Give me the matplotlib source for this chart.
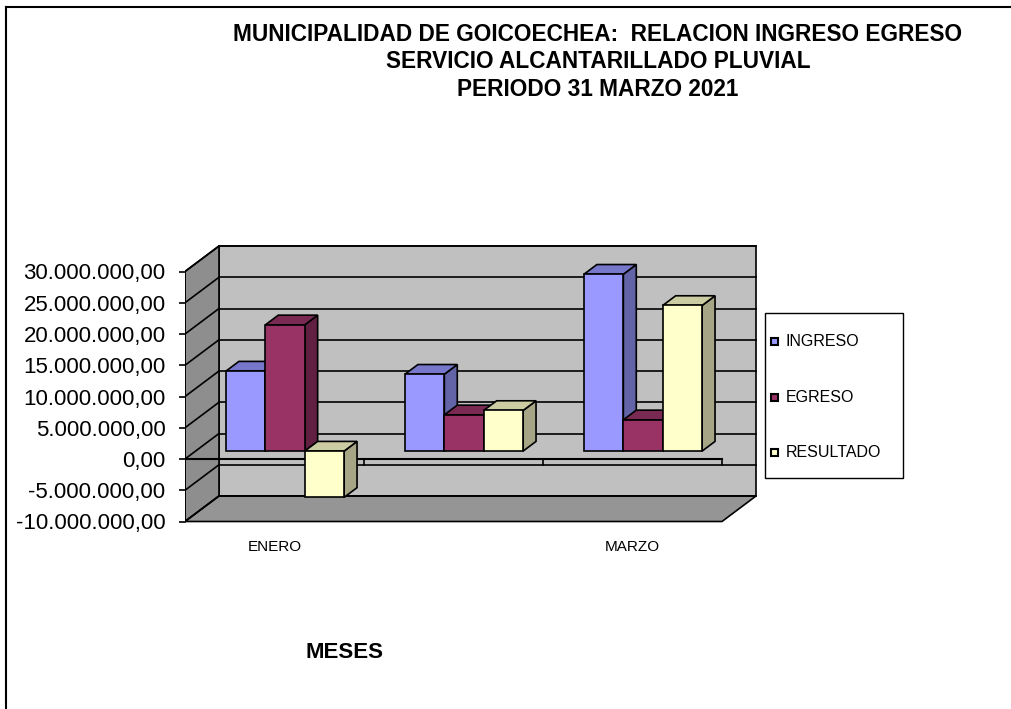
import numpy as np
import matplotlib
matplotlib.use("Agg")
import matplotlib.pyplot as plt
from matplotlib.patches import Polygon, Rectangle
from matplotlib.lines import Line2D
from matplotlib.transforms import blended_transform_factory

plt.rcParams['font.family'] = ['Liberation Sans', 'DejaVu Sans']

# data
meses = ["ENERO", "FEBRERO", "MARZO"]
mes_labels = ["ENERO", "", "MARZO"]
series = ["INGRESO", "EGRESO", "RESULTADO"]
ingreso = [12_800_000, 12_300_000, 28_300_000]
egreso = [20_200_000, 5_800_000, 5_000_000]
resultado = [-7_400_000, 6_500_000, 23_300_000]
yticks = list(range(-10_000_000, 30_000_001, 5_000_000))

front_colors = ["#9999FF", "#993366", "#FFFFCC"]
top_colors = ["#7777CC", "#7A2952", "#CCCCA3"]
side_colors = ["#6363A8", "#611F42", "#A6A687"]

W, H = 1012, 709
def fx(px):
    return px / W
def fy(py):
    return 1 - py / H

fig = plt.figure(figsize=(W / 100, H / 100), dpi=100)

# axes placed so that one category = 179 px and 1e6 = 6.25 px
ax = fig.add_axes([fx(185), fy(525.25), 590.7 / W, 282.5 / H])
ax.set_xlim(0, 3.3)
ax.set_ylim(-10.6e6, 34.6e6)
for s in ax.spines.values():
    s.set_visible(False)

n = len(meses)
ymin, ymax = yticks[0], yticks[-1]
DX, DY = 0.19, 4.08e6      # wall depth
f, g = 0.31, 0.38          # bar depth position / thickness (fraction of wall depth)
w = 0.22
gap = (1 - 3 * w) / 2
lw = 1.2

# back wall, left wall, floor
ax.add_patch(Rectangle((DX, ymin + DY), n, ymax - ymin, fc="#C0C0C0", ec="black", lw=lw, zorder=1))
ax.add_patch(Polygon([(0, ymin), (0, ymax), (DX, ymax + DY), (DX, ymin + DY)],
                     closed=True, fc="#8E8E8E", ec="black", lw=lw, zorder=1))
ax.add_patch(Polygon([(0, ymin), (n, ymin), (n + DX, ymin + DY), (DX, ymin + DY)],
                     closed=True, fc="#959595", ec="black", lw=lw, zorder=1))

# gridlines
for v in yticks:
    ax.plot([DX, n + DX], [v + DY, v + DY], color="black", lw=lw, zorder=2)
    ax.plot([0, DX], [v, v + DY], color="black", lw=lw, zorder=2)

# category axis at zero
ax.plot([0, n], [0, 0], color="black", lw=lw + 0.3, zorder=3)
for i in range(1, n + 1):
    ax.plot([i, i], [0, -0.95e6], color="black", lw=lw, zorder=3)

# 3d bars
vals = [ingreso, egreso, resultado]
for i in range(n):
    for j in range(3):
        v = vals[j][i]
        x0 = i + gap + j * w + f * DX
        yb = f * DY + min(0, v)
        yt = f * DY + max(0, v)
        ox, oy = g * DX, g * DY
        ax.add_patch(Polygon([(x0 + w, yb), (x0 + w, yt), (x0 + w + ox, yt + oy), (x0 + w + ox, yb + oy)],
                             closed=True, fc=side_colors[j], ec="black", lw=lw, zorder=4))
        ax.add_patch(Polygon([(x0, yt), (x0 + w, yt), (x0 + w + ox, yt + oy), (x0 + ox, yt + oy)],
                             closed=True, fc=top_colors[j], ec="black", lw=lw, zorder=4))
        ax.add_patch(Rectangle((x0, yb), w, yt - yb, fc=front_colors[j], ec="black", lw=lw, zorder=4))

# y axis
def fmt(v):
    s = f"{v:,.2f}"
    return s.replace(",", "X").replace(".", ",").replace("X", ".")
ax.set_yticks(yticks)
ax.set_yticklabels([fmt(v) for v in yticks], fontsize=16)
ax.tick_params(axis="y", direction="out", length=4, width=1.2, pad=10)
ax.set_xticks([])
ax.plot([0, 0], [ymin, ymax], color="black", lw=lw, zorder=2)

# month labels
trans = blended_transform_factory(ax.transData, fig.transFigure)
for i, lab in enumerate(mes_labels):
    ax.text(i + 0.5, fy(550.7), lab, transform=trans, ha="center", va="baseline", fontsize=11)

fig.text(fx(345), fy(658), "MESES", ha="center", va="baseline", fontsize=16, fontweight="bold")

# title
title_lines = ["MUNICIPALIDAD DE GOICOECHEA:  RELACION INGRESO EGRESO",
               "SERVICIO ALCANTARILLADO PLUVIAL",
               "PERIODO 31 MARZO 2021"]
for line, base in zip(title_lines, [40.7, 68.3, 96]):
    fig.text(fx(598), fy(base), line, ha="center", va="baseline", fontsize=16.3, fontweight="bold")

# legend
fig.add_artist(Rectangle((fx(765), fy(478)), fx(903) - fx(765), fy(313) - fy(478),
                         transform=fig.transFigure, fc="white", ec="black", lw=1))
for j, (name, base) in enumerate(zip(series, [346, 401.5, 456.8])):
    fig.add_artist(Rectangle((fx(771), fy(base - 1)), 7 / W, 7 / H, transform=fig.transFigure,
                             fc=front_colors[j], ec="black", lw=1.5))
    fig.text(fx(786), fy(base), name, ha="left", va="baseline", fontsize=11.5)

# outer frame
fig.add_artist(Line2D([fx(6.5), fx(6.5)], [0, fy(6.5)], transform=fig.transFigure, color="black", lw=1.5))
fig.add_artist(Line2D([fx(6.5), 1], [fy(6.5), fy(6.5)], transform=fig.transFigure, color="black", lw=1.5))

fig.savefig("out.png", dpi=100)
